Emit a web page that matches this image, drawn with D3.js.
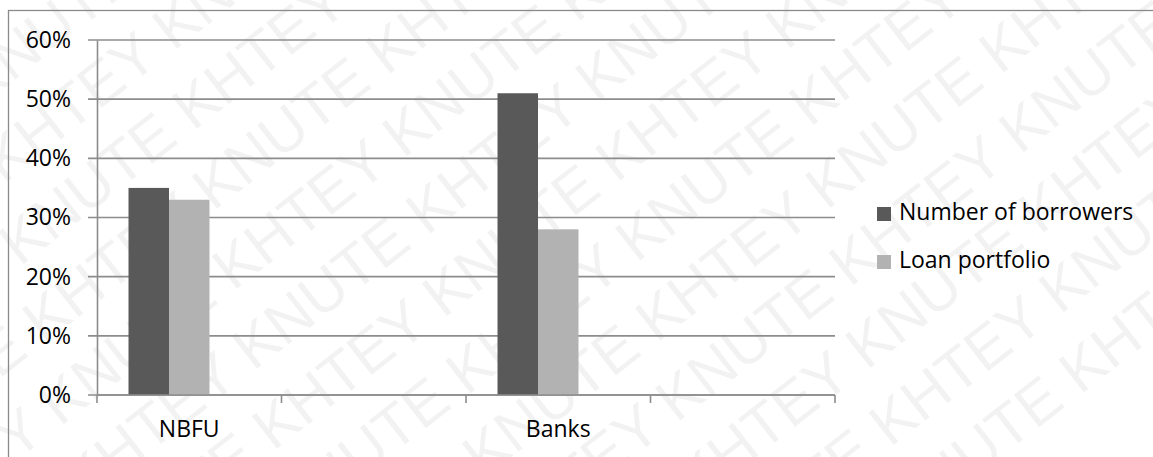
<!DOCTYPE html>
<html>
<head>
<meta charset="utf-8">
<script src="https://cdn.jsdelivr.net/npm/d3@7"></script>
<style>
  html, body { margin: 0; padding: 0; background: #fff; }
  svg { display: block; font-family: "Open Sans", Lato, sans-serif; }
</style>
</head>
<body>
<svg id="chart" width="1153" height="457"></svg>
<script>
// ---- data ----
const categories = ["NBFU", "", "Banks", ""];
const seriesNames = ["Number of borrowers", "Loan portfolio"];
const borrowers = [0.35, null, 0.51, null];
const loanPortfolio = [0.33, null, 0.28, null];
const yTicks = [0, 0.1, 0.2, 0.3, 0.4, 0.5, 0.6];
const seriesColors = ["#595959", "#b2b2b2"];

const svg = d3.select("#chart");
const W = 1153, H = 457;
const FONT = "'Open Sans', Lato, sans-serif";
const FS = 23;

// ---- watermark ----
const wm = svg.append("g").attr("class", "watermark")
  .attr("fill", "#000").attr("fill-opacity", 0.05)
  .attr("font-family", "'Liberation Sans', Arial, sans-serif")
  .attr("font-size", 60);
const wmWords = ["KNUTE", "KHTEY"];
for (let r = -10; r < 16; r++) {
  const row = d3.range(7).map(i => wmWords[(i + r) & 1]).join(" ");
  wm.append("text")
    .attr("transform", `translate(${-250 + r * 20}, ${r * 80}) rotate(-38)`)
    .text(row);
}

// ---- frame ----
svg.append("rect")
  .attr("x", 8.5).attr("y", 10.5).attr("width", W + 20).attr("height", H + 20)
  .attr("fill", "none").attr("stroke", "#8a8a8a").attr("stroke-width", 1.3);

// ---- scales ----
const plot = { left: 97, right: 835, top: 40, bottom: 395 };
const x0 = d3.scaleBand().domain(d3.range(categories.length))
  .range([plot.left, plot.right]).padding(0);
const x1 = d3.scaleBand().domain([0, 1, 2])
  .range([0, x0.bandwidth()]).paddingInner(0).paddingOuter(0.778);
const y = d3.scaleLinear().domain([0, 0.6]).range([plot.bottom, plot.top]);

// ---- gridlines ----
svg.append("g").selectAll("line").data(yTicks).join("line")
  .attr("x1", plot.left - 9).attr("x2", plot.right)
  .attr("y1", d => y(d)).attr("y2", d => y(d))
  .attr("stroke", "#8c8c8c").attr("stroke-width", 1.6);

// ---- y axis ----
const yAxis = svg.append("g")
  .attr("transform", `translate(${plot.left},0)`)
  .call(d3.axisLeft(y).tickValues(yTicks).tickFormat(d3.format(".0%")).tickSize(0).tickPadding(26));
yAxis.select(".domain").attr("stroke", "#8c8c8c").attr("stroke-width", 1.6);
yAxis.selectAll("text").attr("font-size", FS).attr("fill", "#000")
  .attr("font-family", FONT);

// ---- bars ----
const seriesData = [borrowers, loanPortfolio];
seriesData.forEach((vals, si) => {
  svg.append("g").selectAll("rect")
    .data(vals.map((v, i) => ({ v, i })).filter(d => d.v != null))
    .join("rect")
    .attr("x", d => x0(d.i) + x1(si))
    .attr("width", x1.bandwidth())
    .attr("y", d => y(d.v))
    .attr("height", d => y(0) - y(d.v))
    .attr("fill", seriesColors[si]);
});

// ---- x axis ----
const xAxis = svg.append("g").attr("transform", `translate(0,${plot.bottom})`);
xAxis.append("line").attr("x1", plot.left).attr("x2", plot.right)
  .attr("stroke", "#8c8c8c").attr("stroke-width", 1.6);
const bounds = d3.range(categories.length + 1).map(i => i < categories.length ? x0(i) : plot.right);
xAxis.selectAll("line.tick").data(bounds).join("line").attr("class", "tick")
  .attr("x1", d => d).attr("x2", d => d).attr("y1", 0).attr("y2", 8)
  .attr("stroke", "#8c8c8c").attr("stroke-width", 1.6);
xAxis.selectAll("text").data(categories.map((c, i) => ({ c, i })).filter(d => d.c))
  .join("text")
  .attr("x", d => x0(d.i) + x0.bandwidth() / 2)
  .attr("y", 42)
  .attr("text-anchor", "middle")
  .attr("font-size", FS).attr("font-family", FONT).attr("fill", "#000")
  .text(d => d.c);

// ---- legend ----
const legend = svg.append("g").attr("transform", "translate(877,207)");
seriesNames.forEach((name, i) => {
  const g = legend.append("g").attr("transform", `translate(0,${i * 48})`);
  g.append("rect").attr("width", 14).attr("height", 14).attr("fill", seriesColors[i]);
  g.append("text").attr("x", 22).attr("y", 13)
    .attr("font-size", FS).attr("font-family", FONT).attr("fill", "#000").text(name);
});
</script>
</body>
</html>
